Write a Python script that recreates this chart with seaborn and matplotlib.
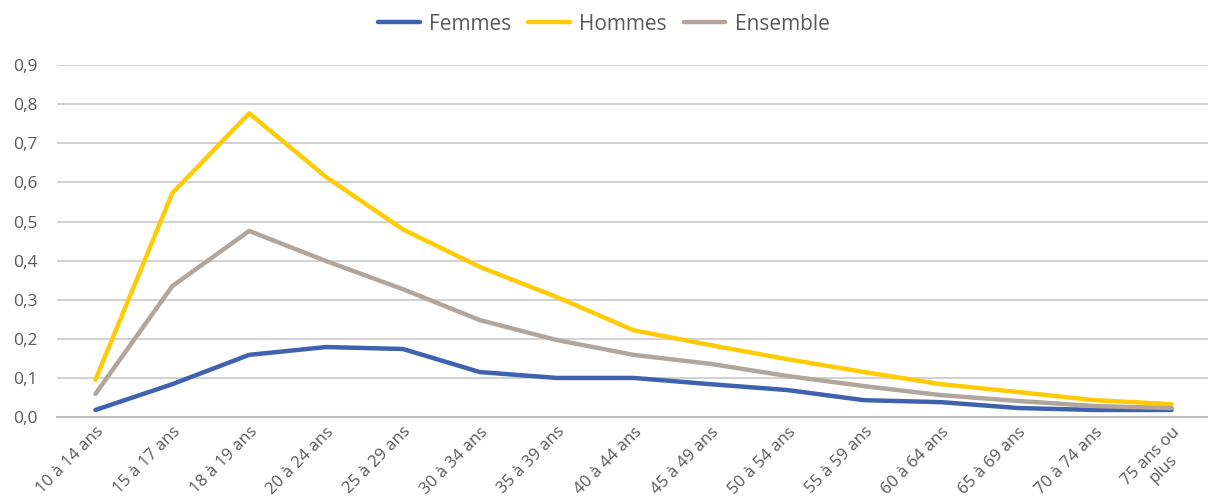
import matplotlib
matplotlib.use("Agg")
import matplotlib.pyplot as plt
import seaborn as sns
import pandas as pd

categories = ["10 à 14 ans", "15 à 17 ans", "18 à 19 ans", "20 à 24 ans", "25 à 29 ans",
              "30 à 34 ans", "35 à 39 ans", "40 à 44 ans", "45 à 49 ans", "50 à 54 ans",
              "55 à 59 ans", "60 à 64 ans", "65 à 69 ans", "70 à 74 ans", "75 ans ou\nplus"]
femmes = [0.018, 0.084, 0.159, 0.179, 0.174, 0.115, 0.100, 0.100, 0.084, 0.069,
          0.043, 0.038, 0.023, 0.018, 0.018]
hommes = [0.095, 0.573, 0.777, 0.614, 0.480, 0.384, 0.307, 0.222, 0.184, 0.148,
          0.115, 0.084, 0.064, 0.043, 0.033]
ensemble = [0.059, 0.335, 0.476, 0.399, 0.327, 0.248, 0.197, 0.159, 0.136, 0.105,
            0.079, 0.056, 0.041, 0.028, 0.023]
series_names = ["Femmes", "Hommes", "Ensemble"]
yticks = [0.0, 0.1, 0.2, 0.3, 0.4, 0.5, 0.6, 0.7, 0.8, 0.9]
ytick_labels = ["0,0", "0,1", "0,2", "0,3", "0,4", "0,5", "0,6", "0,7", "0,8", "0,9"]

rows = []
for name, vals in zip(series_names, [femmes, hommes, ensemble]):
    for i, (c, v) in enumerate(zip(categories, vals)):
        rows.append({"pos": i, "cat": c, "serie": name, "val": v})
df = pd.DataFrame(rows)

sns.set_theme(style="white")
plt.rcParams['font.family'] = ['Open Sans', 'DejaVu Sans']

fig = plt.figure(figsize=(12.08, 5.04), dpi=100)
ax = fig.add_axes([0.0472, 0.1726, 0.9545, 0.698])

palette = {"Femmes": "#3e62ad", "Hommes": "#ffcb05", "Ensemble": "#b2a59b"}
sns.lineplot(data=df, x="pos", y="val", hue="serie", hue_order=series_names,
             palette=palette, linewidth=3.2, ax=ax, legend=True)

ax.set_xlim(-0.5, len(categories) - 0.5)
ax.set_ylim(0, 0.9)
ax.set_yticks(yticks)
ax.set_yticklabels(ytick_labels)
ax.set_xticks(range(len(categories)))
ax.set_xticklabels(categories, rotation=45, ha="right", va="top",
                   rotation_mode="anchor", multialignment="center")
ax.tick_params(axis="y", labelsize=12.5, colors="#595959", length=0, pad=14)
ax.tick_params(axis="x", labelsize=12, colors="#595959", length=0, pad=5)
ax.set_xlabel("")
ax.set_ylabel("")
ax.grid(axis="y", color="#c9c9c9", linewidth=1.2)
ax.set_axisbelow(True)
for s in ["left", "right", "top"]:
    ax.spines[s].set_visible(False)
ax.spines["bottom"].set_color("#bfbfbf")
ax.spines["bottom"].set_linewidth(1.5)

handles, labels = ax.get_legend_handles_labels()
ax.legend_.remove()
leg = fig.legend(handles, labels, loc="upper center", bbox_to_anchor=(0.5, 1.01),
                 ncol=3, frameon=False, fontsize=15, handlelength=2.0,
                 columnspacing=0.8, handletextpad=0.45)
for t in leg.get_texts():
    t.set_color("#595959")
for l in leg.get_lines():
    l.set_linewidth(3.2)

fig.savefig("out.png", dpi=100)
